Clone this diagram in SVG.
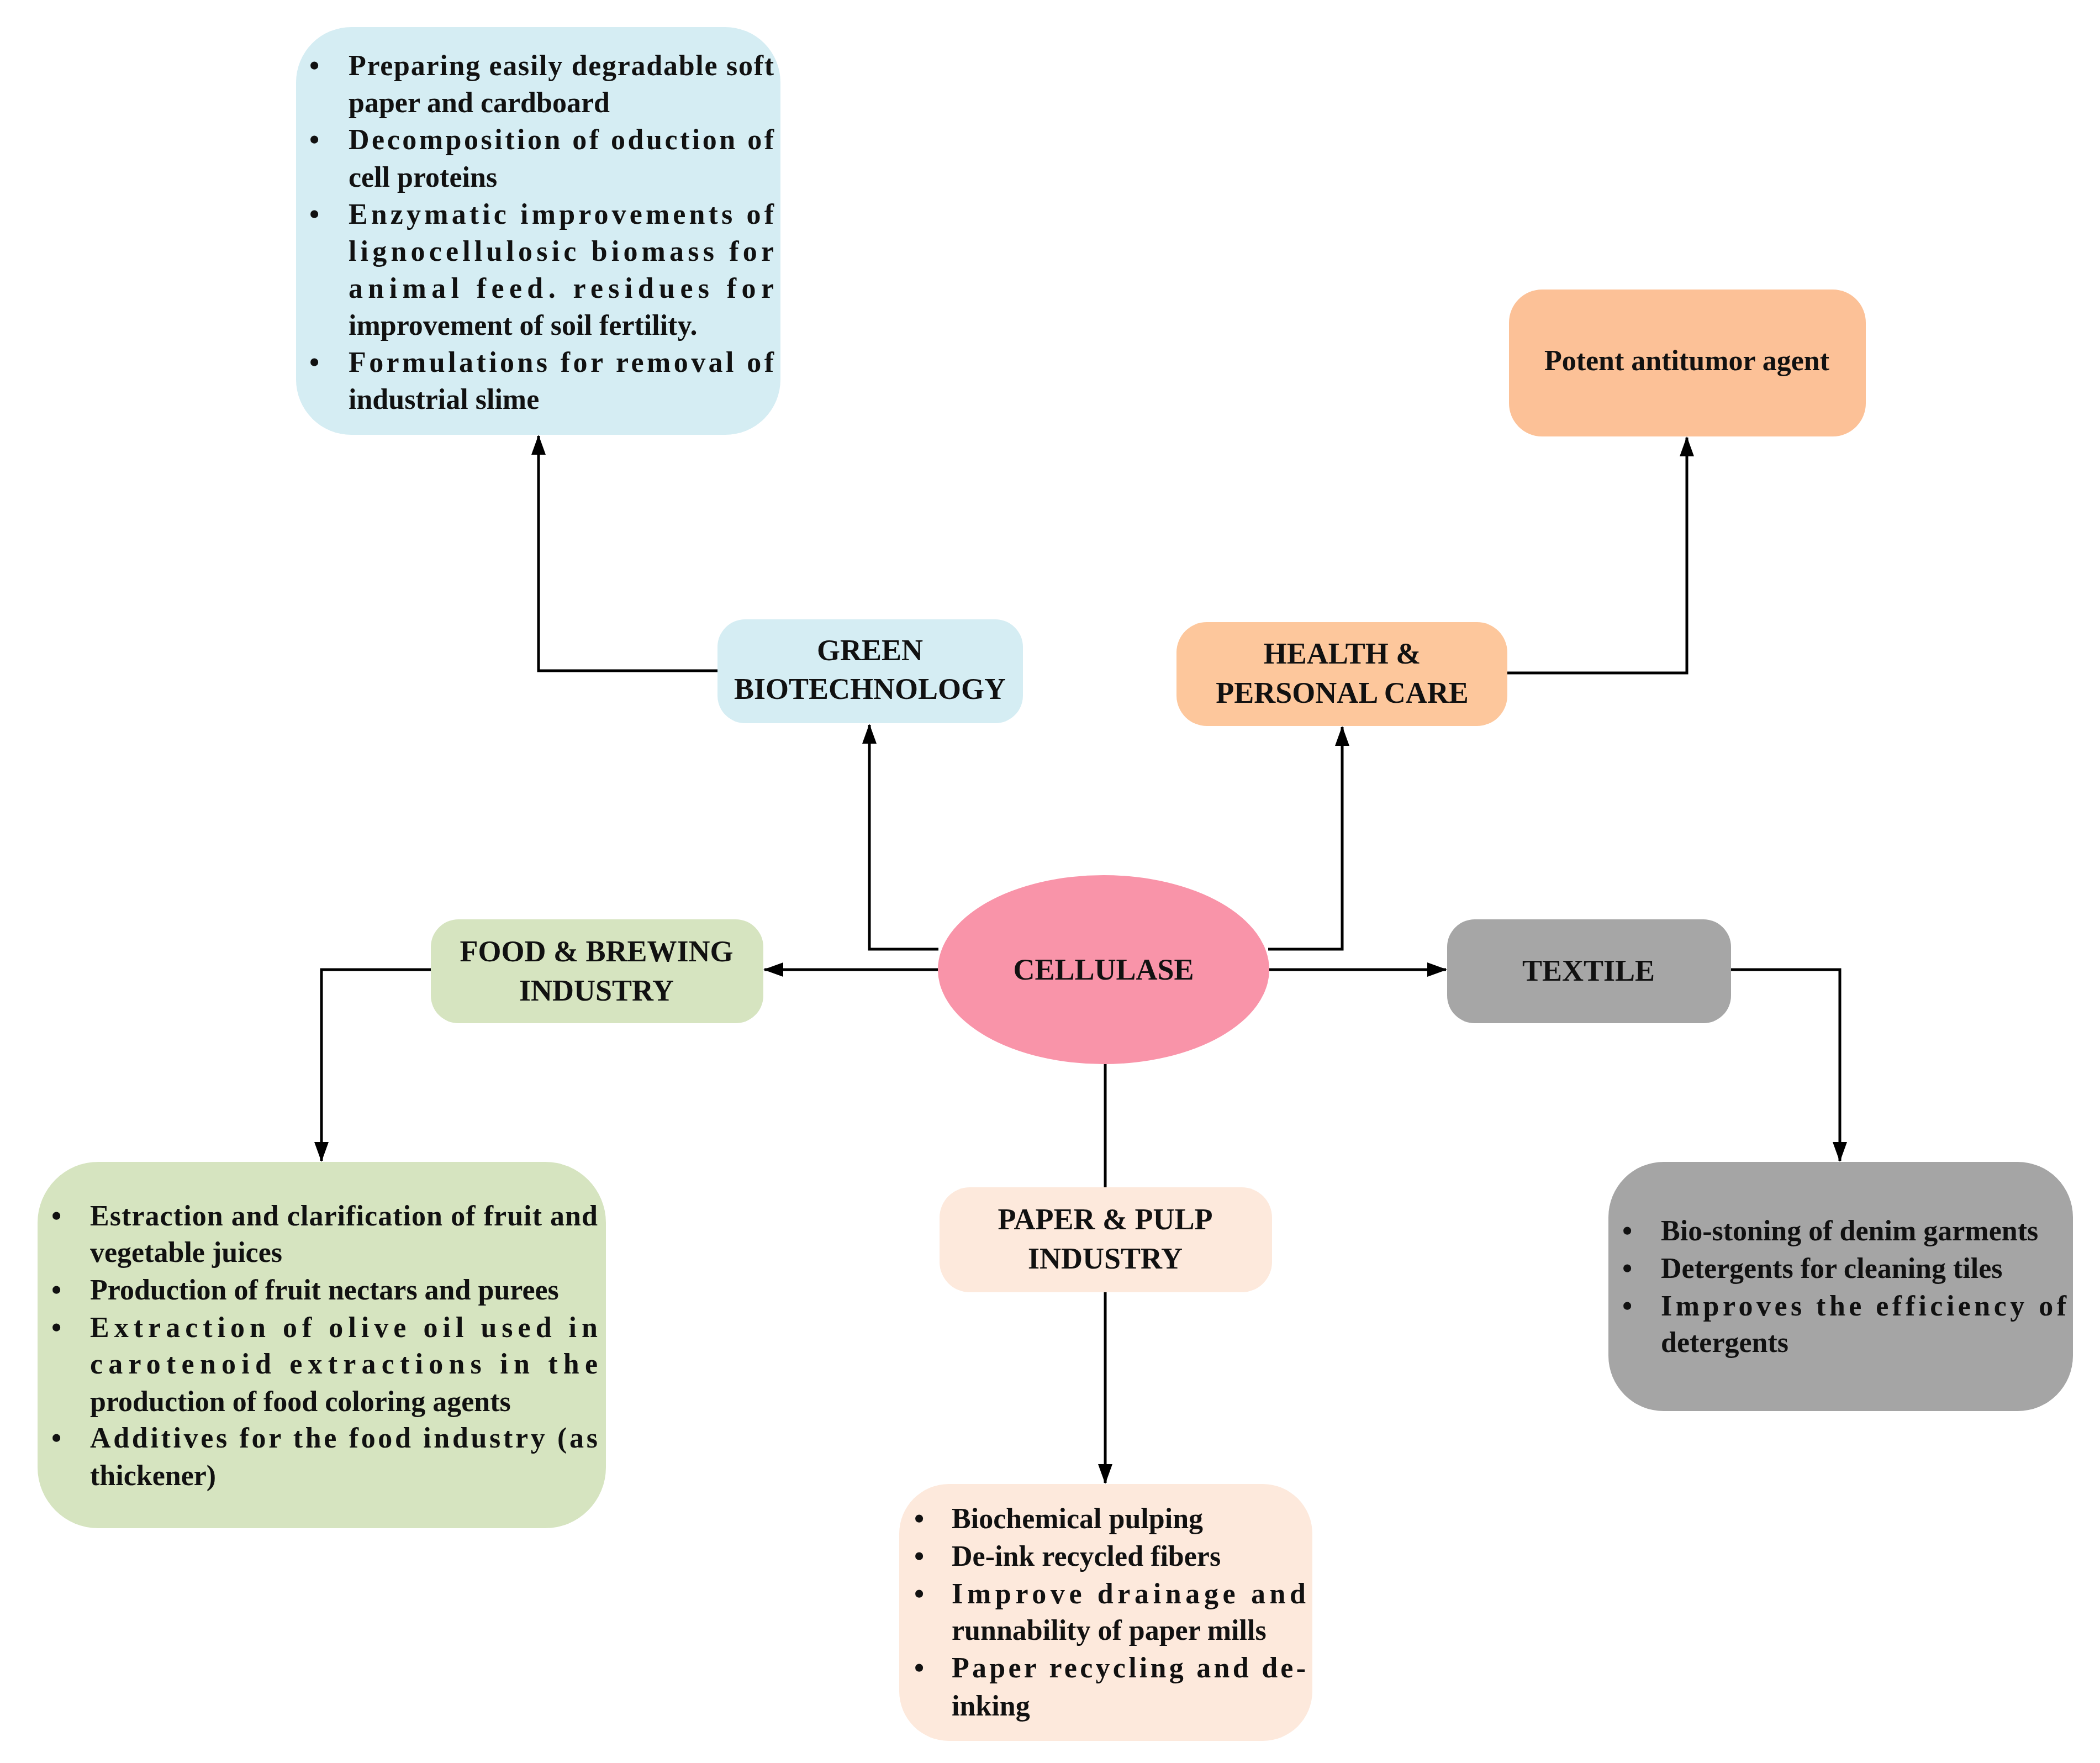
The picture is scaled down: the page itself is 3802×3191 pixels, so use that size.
<svg xmlns="http://www.w3.org/2000/svg" width="3802" height="3191" viewBox="0 0 3802 3191">
<style>
text{font-family:"Liberation Serif","DejaVu Serif",serif;font-weight:bold;fill:#111;}
.t{font-size:52px;}
.l{font-size:54px;text-anchor:middle;}
.c{fill:none;stroke:#000;stroke-width:5;}
</style>
<defs>
<marker id="ah" markerUnits="userSpaceOnUse" markerWidth="36" markerHeight="26" refX="34" refY="13" orient="auto">
<path d="M0,0 L36,13 L0,26 Z" fill="#000"/>
</marker>
</defs>
<rect width="3802" height="3191" fill="#fff"/>
<g id="connectors">
<polyline class="c" points="1699,1718 1574,1718 1574,1312" marker-end="url(#ah)"/>
<polyline class="c" points="2296,1718 2430,1718 2430,1316" marker-end="url(#ah)"/>
<polyline class="c" points="1299,1214 975,1214 975,789" marker-end="url(#ah)"/>
<polyline class="c" points="2729,1218 3054,1218 3054,792" marker-end="url(#ah)"/>
<line class="c" x1="1698" y1="1755" x2="1384" y2="1755" marker-end="url(#ah)"/>
<line class="c" x1="2298" y1="1755" x2="2618" y2="1755" marker-end="url(#ah)"/>
<polyline class="c" points="780,1755 582,1755 582,2101" marker-end="url(#ah)"/>
<polyline class="c" points="3134,1755 3331,1755 3331,2101" marker-end="url(#ah)"/>
<line class="c" x1="2001" y1="1926" x2="2001" y2="2149"/>
<line class="c" x1="2001" y1="2339" x2="2001" y2="2684" marker-end="url(#ah)"/>
</g>
<g id="green-apps">
<rect x="536" y="49" width="877" height="738" rx="100" fill="#d5edf3"/>
<text class="t" x="560" y="136">•</text>
<text class="t" x="631" y="136" textLength="770" lengthAdjust="spacing">Preparing easily degradable soft</text>
<text class="t" x="631" y="203">paper and cardboard</text>
<text class="t" x="560" y="270">•</text>
<text class="t" x="631" y="270" textLength="770" lengthAdjust="spacing">Decomposition of oduction of</text>
<text class="t" x="631" y="338">cell proteins</text>
<text class="t" x="560" y="405">•</text>
<text class="t" x="631" y="405" textLength="770" lengthAdjust="spacing">Enzymatic improvements of</text>
<text class="t" x="631" y="472" textLength="770" lengthAdjust="spacing">lignocellulosic biomass for</text>
<text class="t" x="631" y="539" textLength="770" lengthAdjust="spacing">animal feed. residues for</text>
<text class="t" x="631" y="606">improvement of soil fertility.</text>
<text class="t" x="560" y="673">•</text>
<text class="t" x="631" y="673" textLength="770" lengthAdjust="spacing">Formulations for  removal of</text>
<text class="t" x="631" y="740">industrial slime</text>
</g>
<g id="green">
<rect x="1299" y="1121" width="553" height="188" rx="50" fill="#d5edf3"/>
<text class="l" x="1575" y="1195">GREEN</text>
<text class="l" x="1575" y="1265">BIOTECHNOLOGY</text>
</g>
<g id="health">
<rect x="2130" y="1126" width="599" height="188" rx="55" fill="#fdc79c"/>
<text class="l" x="2430" y="1201">HEALTH &amp;</text>
<text class="l" x="2430" y="1272">PERSONAL CARE</text>
</g>
<g id="potent">
<rect x="2732" y="524" width="646" height="266" rx="60" fill="#fcc197"/>
<text class="t" x="3054" y="670" text-anchor="middle">Potent antitumor agent</text>
</g>
<g id="cellulase">
<ellipse cx="1998" cy="1755" rx="300" ry="171" fill="#f994a9"/>
<text class="l" x="1998" y="1773">CELLULASE</text>
</g>
<g id="food">
<rect x="780" y="1664" width="602" height="188" rx="50" fill="#d6e4c0"/>
<text class="l" x="1080" y="1740">FOOD &amp; BREWING</text>
<text class="l" x="1080" y="1811">INDUSTRY</text>
</g>
<g id="textile">
<rect x="2620" y="1664" width="514" height="188" rx="50" fill="#a6a6a6"/>
<text class="l" x="2876" y="1775">TEXTILE</text>
</g>
<g id="paper">
<rect x="1701" y="2149" width="602" height="190" rx="55" fill="#fde9dc"/>
<text class="l" x="2001" y="2225">PAPER &amp; PULP</text>
<text class="l" x="2001" y="2296">INDUSTRY</text>
</g>
<g id="food-apps">
<rect x="68" y="2103" width="1029" height="663" rx="110" fill="#d6e4c0"/>
<text class="t" x="93" y="2218">•</text>
<text class="t" x="163" y="2218" textLength="919" lengthAdjust="spacing">Estraction and clarification of fruit and</text>
<text class="t" x="163" y="2284">vegetable juices</text>
<text class="t" x="93" y="2352">•</text>
<text class="t" x="163" y="2352">Production of fruit nectars and purees</text>
<text class="t" x="93" y="2420">•</text>
<text class="t" x="163" y="2420" textLength="919" lengthAdjust="spacing">Extraction of olive oil used in</text>
<text class="t" x="163" y="2486" textLength="919" lengthAdjust="spacing">carotenoid  extractions in the</text>
<text class="t" x="163" y="2554">production of food coloring agents</text>
<text class="t" x="93" y="2620">•</text>
<text class="t" x="163" y="2620" textLength="919" lengthAdjust="spacing">Additives for the food industry (as</text>
<text class="t" x="163" y="2688">thickener)</text>
</g>
<g id="textile-apps">
<rect x="2912" y="2103" width="841" height="451" rx="100" fill="#a5a5a5"/>
<text class="t" x="2937" y="2245">•</text>
<text class="t" x="3007" y="2245">Bio-stoning of denim garments</text>
<text class="t" x="2937" y="2313">•</text>
<text class="t" x="3007" y="2313">Detergents for cleaning tiles</text>
<text class="t" x="2937" y="2381">•</text>
<text class="t" x="3007" y="2381" textLength="734" lengthAdjust="spacing">Improves the efficiency of</text>
<text class="t" x="3007" y="2447">detergents</text>
</g>
<g id="paper-apps">
<rect x="1628" y="2686" width="748" height="465" rx="90" fill="#fde9dc"/>
<text class="t" x="1655" y="2766">•</text>
<text class="t" x="1723" y="2766">Biochemical pulping</text>
<text class="t" x="1655" y="2834">•</text>
<text class="t" x="1723" y="2834">De-ink recycled fibers</text>
<text class="t" x="1655" y="2902">•</text>
<text class="t" x="1723" y="2902" textLength="641" lengthAdjust="spacing">Improve drainage and</text>
<text class="t" x="1723" y="2968">runnability of paper mills</text>
<text class="t" x="1655" y="3036">•</text>
<text class="t" x="1723" y="3036" textLength="641" lengthAdjust="spacing">Paper recycling and de-</text>
<text class="t" x="1723" y="3105">inking</text>
</g>
</svg>
